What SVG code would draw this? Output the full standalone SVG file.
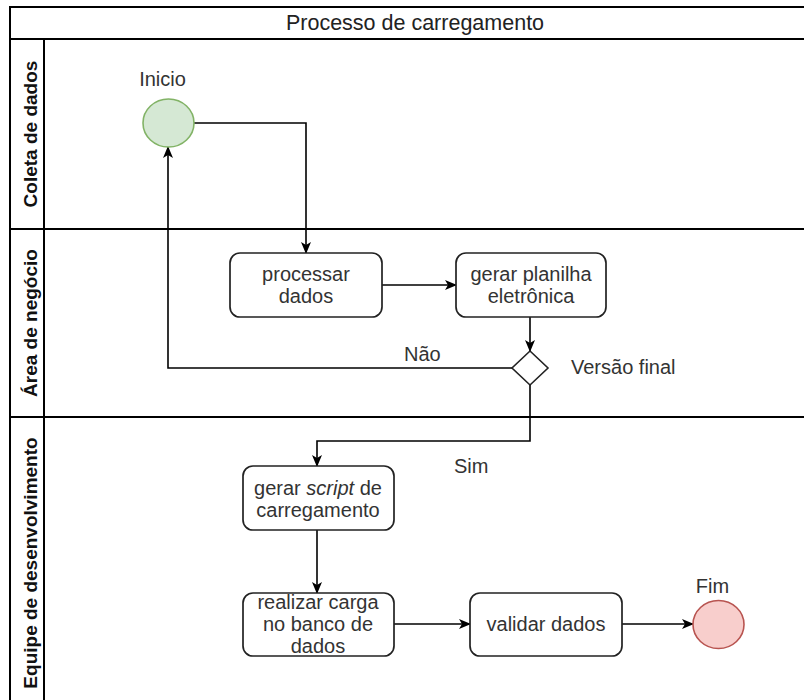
<svg xmlns="http://www.w3.org/2000/svg" width="804" height="700" viewBox="0 0 804 700">
  <style>
    .pool { fill: none; stroke: #000; stroke-width: 2; }
    .lane-label { font-family: "Liberation Sans", Arial, sans-serif; font-size: 19px; font-weight: bold; fill: #111; text-anchor: middle; }
    .title { font-family: "Liberation Sans", Arial, sans-serif; font-size: 21.5px; fill: #222; text-anchor: middle; }
    .task { fill: #fff; stroke: #222; stroke-width: 1.7; }
    .label { font-family: "Liberation Sans", Arial, sans-serif; font-size: 20px; fill: #333; text-anchor: middle; }
    .label-l { font-family: "Liberation Sans", Arial, sans-serif; font-size: 20px; fill: #333; }
    .edge { fill: none; stroke: #000; stroke-width: 1.6; }
    .start { fill: #d5e8d4; stroke: #82b366; stroke-width: 1.6; }
    .end { fill: #f8cecc; stroke: #b85450; stroke-width: 1.6; }
    .gateway { fill: #fff; stroke: #222; stroke-width: 1.6; }
  </style>
  <defs>
    <marker id="arrow" viewBox="0 0 12 10" refX="11" refY="5" markerWidth="12" markerHeight="10" markerUnits="userSpaceOnUse" orient="auto">
      <path d="M0,0 L12,5 L0,10 L3,5 z" fill="#000"/>
    </marker>
  </defs>

  <rect width="804" height="700" fill="#fff"/>

  <!-- Pool with three lanes -->
  <g id="pool">
    <rect class="pool" x="10" y="7" width="830" height="730"/>
    <line class="pool" x1="10" y1="39" x2="840" y2="39"/>
    <line class="pool" x1="44" y1="39" x2="44" y2="737"/>
    <line class="pool" x1="10" y1="229" x2="840" y2="229"/>
    <line class="pool" x1="10" y1="417" x2="840" y2="417"/>
    <text class="title" x="415" y="30">Processo de carregamento</text>
    <text class="lane-label" transform="translate(37,134) rotate(-90)">Coleta de dados</text>
    <text class="lane-label" transform="translate(37,323) rotate(-90)">Área de negócio</text>
    <text class="lane-label" transform="translate(37,563) rotate(-90)">Equipe de desenvolvimento</text>
  </g>

  <!-- Connectors -->
  <g id="connectors">
    <polyline class="edge" points="194,123 306,123 306,253" marker-end="url(#arrow)"/>
    <line class="edge" x1="382" y1="285" x2="456" y2="285" marker-end="url(#arrow)"/>
    <line class="edge" x1="530" y1="317" x2="530" y2="351" marker-end="url(#arrow)"/>
    <polyline class="edge" points="512,368 168,368 168,147" marker-end="url(#arrow)"/>
    <polyline class="edge" points="530,385 530,441 317,441 317,466" marker-end="url(#arrow)"/>
    <line class="edge" x1="317" y1="530" x2="317" y2="593" marker-end="url(#arrow)"/>
    <line class="edge" x1="394" y1="624" x2="470" y2="624" marker-end="url(#arrow)"/>
    <line class="edge" x1="622" y1="624" x2="693" y2="624" marker-end="url(#arrow)"/>
    <text class="label-l" x="404" y="361">Não</text>
    <text class="label-l" x="454" y="473">Sim</text>
  </g>

  <g id="start">
    <ellipse class="start" cx="168.5" cy="123" rx="25.5" ry="24"/>
    <text class="label" x="162.5" y="86">Inicio</text>
  </g>

  <g id="processar">
    <rect class="task" x="230" y="253" width="152" height="64" rx="10"/>
    <text class="label" x="306" y="281">processar</text>
    <text class="label" x="306" y="303">dados</text>
  </g>

  <g id="planilha">
    <rect class="task" x="456" y="253" width="150" height="64" rx="10"/>
    <text class="label" x="531" y="281">gerar planilha</text>
    <text class="label" x="531" y="303">eletrônica</text>
  </g>

  <g id="versao-final">
    <polygon class="gateway" points="530,351 548,368 530,385 512,368"/>
    <text class="label-l" x="571" y="374">Versão final</text>
  </g>

  <g id="gerar-script">
    <rect class="task" x="243" y="466" width="151" height="64" rx="10"/>
    <text class="label" x="318" y="495">gerar <tspan font-style="italic">script</tspan> de</text>
    <text class="label" x="318" y="517">carregamento</text>
  </g>

  <g id="realizar-carga">
    <rect class="task" x="243" y="593" width="151" height="63" rx="10"/>
    <text class="label" x="318" y="609">realizar carga</text>
    <text class="label" x="318" y="631">no banco de</text>
    <text class="label" x="318" y="653">dados</text>
  </g>

  <g id="validar">
    <rect class="task" x="470" y="593" width="152" height="63" rx="10"/>
    <text class="label" x="546" y="631">validar dados</text>
  </g>

  <g id="fim">
    <ellipse class="end" cx="718.5" cy="624.5" rx="25.5" ry="24"/>
    <text class="label" x="712.5" y="593">Fim</text>
  </g>
</svg>
